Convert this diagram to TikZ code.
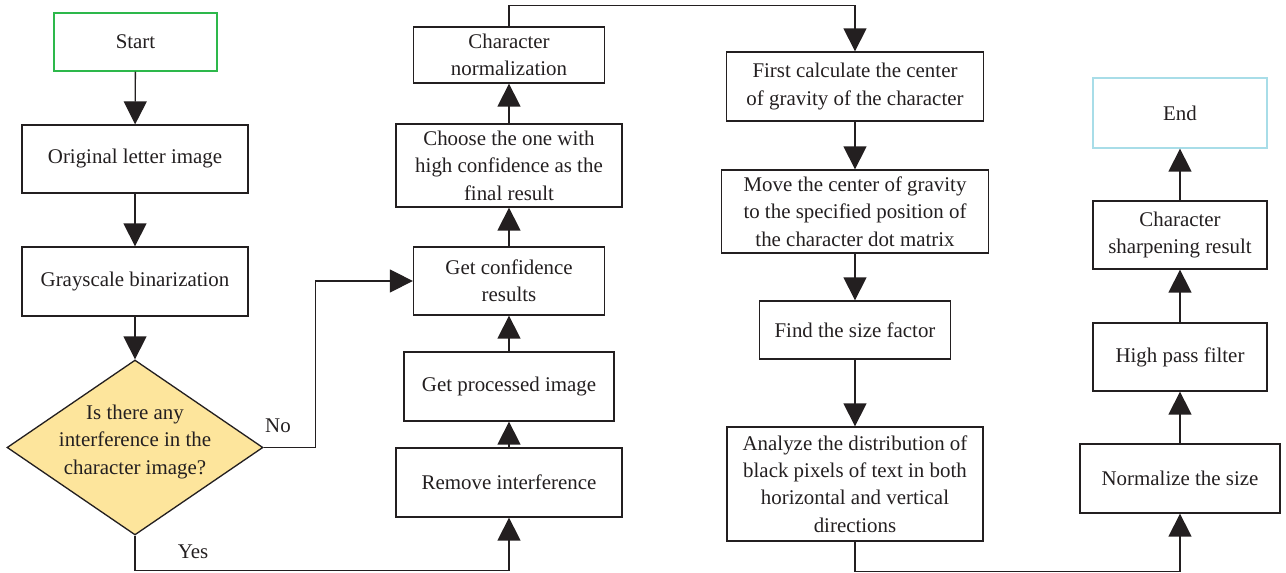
\documentclass[tikz,border=0pt]{standalone}
\usepackage{fontspec}
\setmainfont{Liberation Serif}
\usetikzlibrary{shapes.geometric, arrows.meta}

\definecolor{inkgray}{HTML}{231F20}
\definecolor{startgreen}{HTML}{2DB84B}
\definecolor{endcyan}{HTML}{A8DDE8}
\definecolor{askyellow}{HTML}{FDE59C}

\tikzset{
  stepbox/.style={draw=inkgray, line width=0.75pt, align=center, inner sep=2pt, text=inkgray},
  flow/.style={draw=inkgray, line width=0.75pt, -{Triangle[length=0.46cm, width=0.46cm]}},
  tag/.style={text=inkgray}
}

\begin{document}
\begin{tikzpicture}[x=0.02cm, y=-0.02cm, font=\fontsize{11.9}{15.6}\selectfont]
    \useasboundingbox (0,0) rectangle (1286,573);
    % left column
    \node[stepbox, draw=startgreen, minimum width=3.26cm, minimum height=1.16cm] (start) at (135.5,42) {Start};
    \node[stepbox, minimum width=4.52cm, minimum height=1.36cm] (orig) at (135,159) {Original letter image};
    \node[stepbox, minimum width=4.52cm, minimum height=1.38cm] (gray) at (135,281.5) {Grayscale binarization};
    \node[diamond, draw=inkgray, fill=askyellow, line width=0.75pt, inner sep=0pt, minimum width=5.12cm, minimum height=3.5cm] (ask) at (135,447.5) {};
    \node[tag, align=center] (asktext) at (135,442) {Is there any\\interference in the\\character image?};
    % second column
    \node[stepbox, minimum width=3.82cm, minimum height=1.12cm] (norm) at (509,55) {Character\\normalization};
    \node[stepbox, minimum width=4.52cm, minimum height=1.66cm] (choose) at (509,165.5) {Choose the one with\\high confidence as the\\final result};
    \node[stepbox, minimum width=3.82cm, minimum height=1.36cm] (conf) at (509,281) {Get confidence\\results};
    \node[stepbox, minimum width=4.2cm, minimum height=1.38cm] (proc) at (509,386.5) {Get processed image};
    \node[stepbox, minimum width=4.52cm, minimum height=1.38cm] (remove) at (509,482.5) {Remove interference};
    % third column
    \node[stepbox, minimum width=5.14cm, minimum height=1.38cm] (first) at (855,86.5) {First calculate the center\\of gravity of the character};
    \node[stepbox, minimum width=5.34cm, minimum height=1.66cm] (move) at (855,211.5) {Move the center of gravity\\to the specified position of\\the character dot matrix};
    \node[stepbox, minimum width=3.82cm, minimum height=1.16cm] (size) at (855,330) {Find the size factor};
    \node[stepbox, minimum width=5.12cm, minimum height=2.28cm] (analyze) at (855,484) {Analyze the distribution of\\black pixels of text in both\\horizontal and vertical\\directions};
    % right column
    \node[stepbox, draw=endcyan, minimum width=3.48cm, minimum height=1.4cm] (finish) at (1180,113) {End};
    \node[stepbox, minimum width=3.48cm, minimum height=1.36cm] (sharp) at (1180,235) {Character\\sharpening result};
    \node[stepbox, minimum width=3.48cm, minimum height=1.36cm] (hpf) at (1180,357) {High pass filter};
    \node[stepbox, minimum width=4.0cm, minimum height=1.38cm] (normsize) at (1180,478.5) {Normalize the size};

    \draw[flow] (start) -- (orig);
    \draw[flow] (orig) -- (gray);
    \draw[flow] (gray) -- (ask);
    \draw[flow] (ask.east) -- ++(52,0) |- (conf.west);
    \node[tag] (nolabel) at (278,426) {No};
    \draw[flow] (ask.south) -- ++(0,35) -| (remove.south);
    \node[tag] (yeslabel) at (193,552) {Yes};
    \draw[flow] (remove) -- (proc);
    \draw[flow] (proc) -- (conf);
    \draw[flow] (conf) -- (choose);
    \draw[flow] (choose) -- (norm);
    \draw[flow] (norm.north) -- ++(0,-21) -| (first.north);
    \draw[flow] (first) -- (move);
    \draw[flow] (move) -- (size);
    \draw[flow] (size) -- (analyze);
    \draw[flow] (analyze.south) -- ++(0,30) -| (normsize.south);
    \draw[flow] (normsize) -- (hpf);
    \draw[flow] (hpf) -- (sharp);
    \draw[flow] (sharp) -- (finish);
\end{tikzpicture}
\end{document}
